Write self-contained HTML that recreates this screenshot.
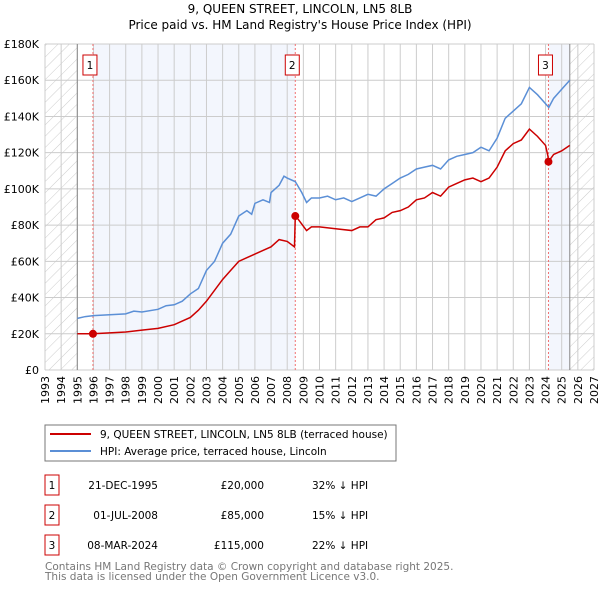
<!DOCTYPE html>
<html><head><meta charset="utf-8"><style>
body{margin:0;background:#fff;width:600px;height:590px;overflow:hidden;font-family:"DejaVu Sans","Liberation Sans",sans-serif}
svg text{font-family:"DejaVu Sans","Liberation Sans",sans-serif}
</style></head><body>
<svg id="chart" width="600" height="590" viewBox="0 0 600 590">
<defs>
<pattern id="hatch" width="8" height="8" patternUnits="userSpaceOnUse" patternTransform="rotate(45)">
<line x1="0" y1="0" x2="0" y2="8" stroke="#ccc" stroke-width="1"/></pattern>
</defs>
<text x="300" y="13" text-anchor="middle" font-size="12" fill="#000">9, QUEEN STREET, LINCOLN, LN5 8LB</text>
<text x="300" y="29" text-anchor="middle" font-size="12" fill="#000">Price paid vs. HM Land Registry's House Price Index (HPI)</text>
<g id="bg"></g><g id="grid"></g><g id="axes"></g><g id="series"></g><g id="marks"></g>
<g>
<rect x="45" y="425" width="351" height="36" fill="#fff" stroke="#777"/>
<line x1="50" y1="434" x2="91" y2="434" stroke="#cc0000" stroke-width="2"/>
<text x="100" y="438" font-size="10.5">9, QUEEN STREET, LINCOLN, LN5 8LB (terraced house)</text>
<line x1="50" y1="451" x2="91" y2="451" stroke="#5b8fd6" stroke-width="2"/>
<text x="100" y="455" font-size="10.5">HPI: Average price, terraced house, Lincoln</text>
</g>
<g id="table" font-size="10.5"></g>
<text x="45" y="570" font-size="10.5" fill="#777">Contains HM Land Registry data © Crown copyright and database right 2025.</text>
<text x="45" y="580" font-size="10.5" fill="#777">This data is licensed under the Open Government Licence v3.0.</text>
</svg>
<script>
const hpiYears=[1995,1995.5,1996,1997,1998,1998.5,1999,2000,2000.5,2001,2001.5,2002,2002.5,2003,2003.5,2004,2004.5,2005,2005.5,2005.8,2006,2006.5,2006.9,2007,2007.5,2007.8,2008,2008.5,2008.9,2009.2,2009.5,2010,2010.5,2011,2011.5,2012,2012.5,2013,2013.5,2014,2014.5,2015,2015.5,2016,2016.5,2017,2017.5,2018,2018.5,2019,2019.5,2020,2020.5,2021,2021.5,2022,2022.5,2023,2023.5,2024,2024.2,2024.5,2025,2025.5];
const hpiValues=[28.5,29.5,30,30.5,31,32.5,32,33.5,35.5,36,38,42,45,55,60,70,75,85,88,86,92,94,92.5,98,102,107,106,104,98,92.5,95,95,96,94,95,93,95,97,96,100,103,106,108,111,112,113,111,116,118,119,120,123,121,128,139,143,147,156,152,147,145,150,155,160];
const ppYears=[1995,1995.96,1997,1998,1999,2000,2001,2002,2002.5,2003,2003.5,2004,2004.5,2005,2005.5,2006,2006.5,2007,2007.5,2008,2008.45,2008.5,2008.7,2009.2,2009.5,2010,2011,2012,2012.5,2013,2013.5,2014,2014.5,2015,2015.5,2016,2016.5,2017,2017.5,2018,2018.5,2019,2019.5,2020,2020.5,2021,2021.5,2022,2022.5,2023,2023.5,2024,2024.15,2024.18,2024.5,2025,2025.5];
const ppValues=[20,20,20.5,21,22,23,25,29,33,38,44,50,55,60,62,64,66,68,72,71,68,85,83,77,79,79,78,77,79,79,83,84,87,88,90,94,95,98,96,101,103,105,106,104,106,112,121,125,127,133,129,124,118,115,119,121,124];
const saleLabels=["1","2","3"];
const saleYears=[1995.97,2008.5,2024.18];
const saleValues=[20,85,115];
const saleDates=["21-DEC-1995","01-JUL-2008","08-MAR-2024"];
const salePrices=["£20,000","£85,000","£115,000"];
const saleDiffs=["32% ↓ HPI","15% ↓ HPI","22% ↓ HPI"];
const yTicks=[0,20,40,60,80,100,120,140,160,180];
const yTickLabels=["£0","£20K","£40K","£60K","£80K","£100K","£120K","£140K","£160K","£180K"];
const xYears=[1993,1994,1995,1996,1997,1998,1999,2000,2001,2002,2003,2004,2005,2006,2007,2008,2009,2010,2011,2012,2013,2014,2015,2016,2017,2018,2019,2020,2021,2022,2023,2024,2025,2026,2027];

const NS="http://www.w3.org/2000/svg";
const L=45,R=594,T=44,B=370,X0=1993,X1=2027,YMAX=180;
const x=v=>L+(v-X0)/(X1-X0)*(R-L);
const y=v=>B-v/YMAX*(B-T);
function mk(tag,attrs,parent){const e=document.createElementNS(NS,tag);for(const k in attrs)e.setAttribute(k,attrs[k]);parent.appendChild(e);return e;}
const bg=document.getElementById('bg'),grid=document.getElementById('grid'),axes=document.getElementById('axes'),series=document.getElementById('series'),marks=document.getElementById('marks'),table=document.getElementById('table');
let r;
r=mk('rect',{x:L,y:T,width:R-L,height:B-T,fill:'#fff'},bg);

r=mk('rect',{x:L,y:T,width:x(1995)-L,height:B-T,fill:'url(#hatch)'},bg);

r=mk('rect',{x:x(2025.5),y:T,width:R-x(2025.5),height:B-T,fill:'url(#hatch)'},bg);

r=mk('rect',{x:x(saleYears[0]),y:T,width:x(saleYears[1])-x(saleYears[0]),height:B-T,fill:'#f3f6fd'},bg);

r=mk('rect',{x:x(saleYears[2]),y:T,width:x(2025.5)-x(saleYears[2]),height:B-T,fill:'#f3f6fd'},bg);

xYears.forEach(v=>{const g=mk('line',{x1:x(v),x2:x(v),y1:T,y2:B,stroke:'#ccc','stroke-width':1},grid);

const t=mk('text',{x:0,y:0,'font-size':11,'text-anchor':'end',transform:`translate(${x(v)+4},${B+6}) rotate(-90)`},axes);t.textContent=v;
});
yTicks.forEach((v,i)=>{const g=mk('line',{x1:L,x2:R,y1:y(v),y2:y(v),stroke:'#ccc','stroke-width':1},grid);

const t=mk('text',{x:L-6,y:y(v)+4,'font-size':11,'text-anchor':'end'},axes);t.textContent=yTickLabels[i];
});
[1995,2025.5].forEach(v=>{const g=mk('line',{x1:x(v),x2:x(v),y1:T,y2:B,stroke:'#888','stroke-width':1},grid);
});
saleYears.forEach((v,i)=>{const g=mk('line',{x1:x(v),x2:x(v),y1:T,y2:B,stroke:'#f07070','stroke-width':1,'stroke-dasharray':'2,2'},grid);
});
let p=mk('polyline',{points:hpiYears.map((v,i)=>x(v)+','+y(hpiValues[i])).join(' '),fill:'none',stroke:'#5b8fd6','stroke-width':1.5},series);

p=mk('polyline',{points:ppYears.map((v,i)=>x(v)+','+y(ppValues[i])).join(' '),fill:'none',stroke:'#cc0000','stroke-width':1.5},series);

saleYears.forEach((v,i)=>{const c=mk('circle',{cx:x(v),cy:y(saleValues[i]),r:4,fill:'#cc0000'},marks);

const bx=x(v)-10;const b=mk('rect',{x:bx,y:55,width:14,height:20,fill:'#fff',stroke:'#cc0000'},marks);

const t=mk('text',{x:bx+7,y:69,'font-size':10.5,'text-anchor':'middle'},marks);t.textContent=saleLabels[i];

const ry=475+i*30;
const tb=mk('rect',{x:45,y:ry,width:14,height:20,fill:'#fff',stroke:'#cc0000'},table);

let tt=mk('text',{x:52,y:ry+14,'text-anchor':'middle'},table);tt.textContent=saleLabels[i];

tt=mk('text',{x:158,y:ry+14,'text-anchor':'end'},table);tt.textContent=saleDates[i];

tt=mk('text',{x:264,y:ry+14,'text-anchor':'end'},table);tt.textContent=salePrices[i];

tt=mk('text',{x:312,y:ry+14},table);tt.textContent=saleDiffs[i];
});
</script>
</body></html>
